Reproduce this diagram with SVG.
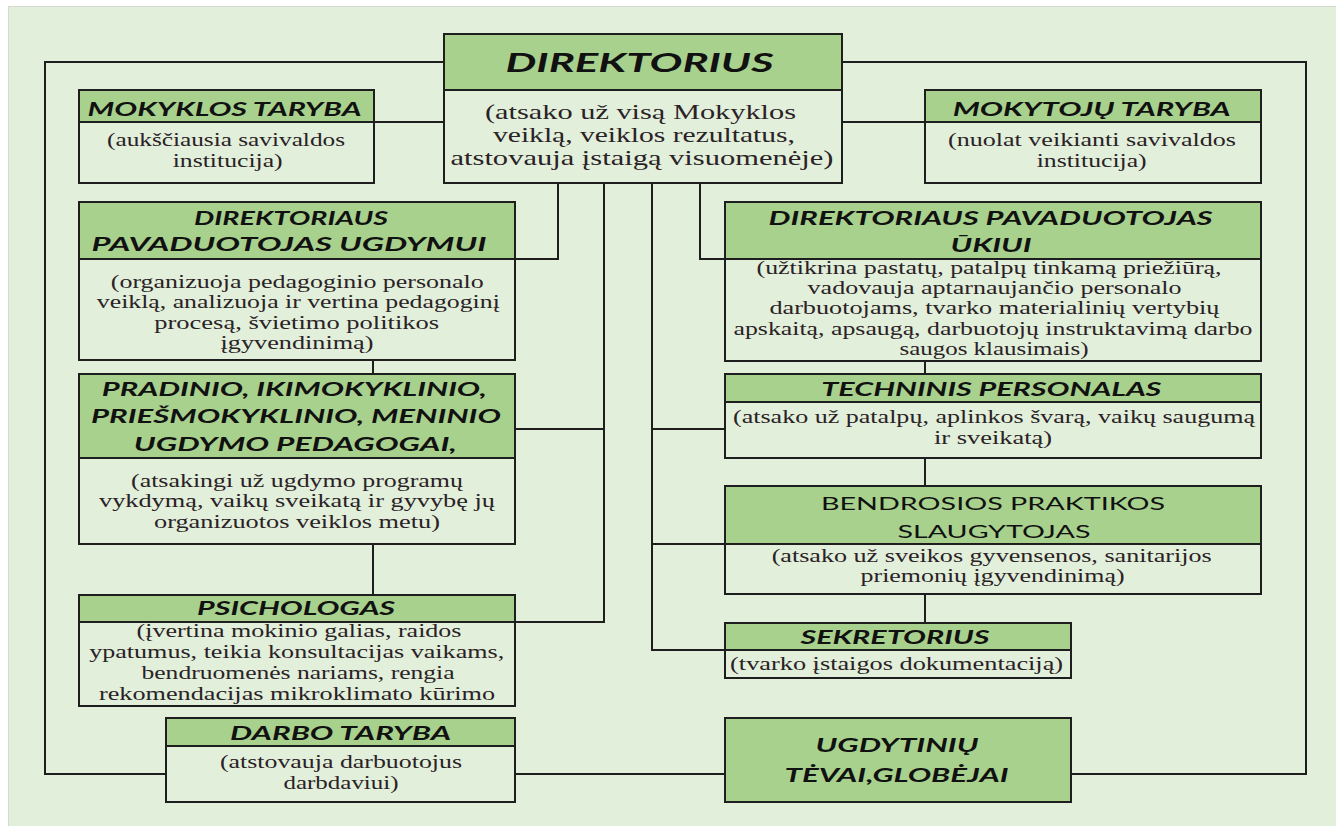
<svg xmlns="http://www.w3.org/2000/svg" width="1336" height="826" viewBox="0 0 1336 826">
<style>
.hd{fill:#A9D18E;stroke:#1e1e1e;stroke-width:2}
.bd{fill:#E2EFDA;stroke:#1e1e1e;stroke-width:2}
.c{fill:none;stroke:#1e1e1e;stroke-width:2}
.h{font-family:Lato,"Liberation Sans",sans-serif;font-weight:bold;font-style:italic;font-size:18px;fill:#111;text-anchor:middle}
.hr{font-family:Lato,"Liberation Sans",sans-serif;font-size:18px;fill:#111;text-anchor:middle}
.b{font-family:"Liberation Serif","DejaVu Serif",serif;font-size:18px;fill:#2a2226;text-anchor:middle}
</style>
<rect x="0" y="0" width="1336" height="826" fill="#ffffff"/>
<rect x="8" y="6" width="1328" height="820" fill="#E2EFDA"/>
<path d="M8.5,826 V6.5 H1336" fill="none" stroke="#d4d8d2" stroke-width="1"/>

<g id="connectors">
<polyline class="c" points="444,62 45,62 45,774 166,774"/>
<polyline class="c" points="842,62 1306,62 1306,774 1071,774"/>
<line class="c" x1="374" y1="122" x2="444" y2="122"/>
<line class="c" x1="842" y1="122" x2="925" y2="122"/>
<polyline class="c" points="558,183 558,259 515,259"/>
<polyline class="c" points="604,183 604,622 515,622"/>
<line class="c" x1="604" y1="429" x2="515" y2="429"/>
<polyline class="c" points="652,183 652,650 725,650"/>
<line class="c" x1="652" y1="429" x2="725" y2="429"/>
<line class="c" x1="652" y1="544" x2="725" y2="544"/>
<polyline class="c" points="700,183 700,259 725,259"/>
<line class="c" x1="373" y1="360" x2="373" y2="374"/>
<line class="c" x1="373" y1="544" x2="373" y2="595"/>
<line class="c" x1="925" y1="361" x2="925" y2="374"/>
<line class="c" x1="925" y1="458" x2="925" y2="486"/>
<line class="c" x1="925" y1="594" x2="925" y2="623"/>
<line class="c" x1="515" y1="774" x2="725" y2="774"/>
</g>

<g id="direktorius">
<rect class="hd" x="444" y="34" width="398" height="56"/>
<rect class="bd" x="444" y="90" width="398" height="93"/>
<text class="h" x="639.5" y="72" style="font-size:26px" textLength="268" lengthAdjust="spacingAndGlyphs">DIREKTORIUS</text>
<text class="b" x="640.5" y="119" style="font-size:21px" textLength="311" lengthAdjust="spacingAndGlyphs">(atsako už visą Mokyklos</text>
<text class="b" x="644" y="142" style="font-size:21px" textLength="302" lengthAdjust="spacingAndGlyphs">veiklą, veiklos rezultatus,</text>
<text class="b" x="642" y="165" style="font-size:21px" textLength="383" lengthAdjust="spacingAndGlyphs">atstovauja įstaigą visuomenėje)</text>
</g>

<g id="mokyklos-taryba">
<rect class="hd" x="79" y="90" width="295" height="32"/>
<rect class="bd" x="79" y="122" width="295" height="61"/>
<text class="h" x="224.5" y="116" textLength="274" lengthAdjust="spacingAndGlyphs">MOKYKLOS TARYBA</text>
<text class="b" x="226" y="146" textLength="238" lengthAdjust="spacingAndGlyphs">(aukščiausia savivaldos</text>
<text class="b" x="227.7" y="167" textLength="110" lengthAdjust="spacingAndGlyphs">institucija)</text>
</g>

<g id="mokytoju-taryba">
<rect class="hd" x="925" y="90" width="336" height="32"/>
<rect class="bd" x="925" y="122" width="336" height="61"/>
<text class="h" x="1091.7" y="116" textLength="278" lengthAdjust="spacingAndGlyphs">MOKYTOJŲ TARYBA</text>
<text class="b" x="1092" y="146" textLength="288" lengthAdjust="spacingAndGlyphs">(nuolat veikianti savivaldos</text>
<text class="b" x="1091.7" y="167" textLength="110" lengthAdjust="spacingAndGlyphs">institucija)</text>
</g>

<g id="pavaduotojas-ugdymui">
<rect class="hd" x="79" y="202" width="436" height="57"/>
<rect class="bd" x="79" y="259" width="436" height="101"/>
<text class="h" x="291" y="225" textLength="194" lengthAdjust="spacingAndGlyphs">DIREKTORIAUS</text>
<text class="h" x="289" y="251" textLength="395" lengthAdjust="spacingAndGlyphs">PAVADUOTOJAS UGDYMUI</text>
<text class="b" x="297.3" y="288" textLength="373" lengthAdjust="spacingAndGlyphs">(organizuoja pedagoginio personalo</text>
<text class="b" x="298.3" y="308" textLength="403" lengthAdjust="spacingAndGlyphs">veiklą, analizuoja ir vertina pedagoginį</text>
<text class="b" x="296.7" y="329" textLength="285" lengthAdjust="spacingAndGlyphs">procesą, švietimo politikos</text>
<text class="b" x="297" y="349" textLength="153" lengthAdjust="spacingAndGlyphs">įgyvendinimą)</text>
</g>

<g id="pedagogai">
<rect class="hd" x="79" y="374" width="436" height="84"/>
<rect class="bd" x="79" y="458" width="436" height="86"/>
<text class="h" x="294.2" y="396" textLength="385" lengthAdjust="spacingAndGlyphs">PRADINIO, IKIMOKYKLINIO,</text>
<text class="h" x="295.9" y="423" textLength="410" lengthAdjust="spacingAndGlyphs">PRIEŠMOKYKLINIO, MENINIO</text>
<text class="h" x="295.3" y="451" textLength="323" lengthAdjust="spacingAndGlyphs">UGDYMO PEDAGOGAI,</text>
<text class="b" x="297" y="487" textLength="332" lengthAdjust="spacingAndGlyphs">(atsakingi už ugdymo programų</text>
<text class="b" x="297" y="507" textLength="396" lengthAdjust="spacingAndGlyphs">vykdymą, vaikų sveikatą ir gyvybę jų</text>
<text class="b" x="297" y="528" textLength="286" lengthAdjust="spacingAndGlyphs">organizuotos veiklos metu)</text>
</g>

<g id="psichologas">
<rect class="hd" x="79" y="595" width="436" height="27"/>
<rect class="bd" x="79" y="622" width="436" height="84"/>
<text class="h" x="296" y="615" textLength="198" lengthAdjust="spacingAndGlyphs">PSICHOLOGAS</text>
<text class="b" x="299" y="637" textLength="325" lengthAdjust="spacingAndGlyphs">(įvertina mokinio galias, raidos</text>
<text class="b" x="296.7" y="658" textLength="415" lengthAdjust="spacingAndGlyphs">ypatumus, teikia konsultacijas vaikams,</text>
<text class="b" x="298" y="679" textLength="313" lengthAdjust="spacingAndGlyphs">bendruomenės nariams, rengia</text>
<text class="b" x="297" y="700" textLength="396" lengthAdjust="spacingAndGlyphs">rekomendacijas mikroklimato kūrimo</text>
</g>

<g id="darbo-taryba">
<rect class="hd" x="166" y="718" width="349" height="28"/>
<rect class="bd" x="166" y="746" width="349" height="56"/>
<text class="h" x="340.5" y="740" textLength="221" lengthAdjust="spacingAndGlyphs">DARBO TARYBA</text>
<text class="b" x="341" y="768" textLength="242" lengthAdjust="spacingAndGlyphs">(atstovauja darbuotojus</text>
<text class="b" x="341" y="789" textLength="115" lengthAdjust="spacingAndGlyphs">darbdaviui)</text>
</g>

<g id="pavaduotojas-ukiui">
<rect class="hd" x="725" y="202" width="536" height="57"/>
<rect class="bd" x="725" y="259" width="536" height="102"/>
<text class="h" x="990.6" y="225" textLength="444" lengthAdjust="spacingAndGlyphs">DIREKTORIAUS PAVADUOTOJAS</text>
<text class="h" x="991" y="252" textLength="81" lengthAdjust="spacingAndGlyphs">ŪKIUI</text>
<text class="b" x="989" y="274" textLength="465" lengthAdjust="spacingAndGlyphs">(užtikrina pastatų, patalpų tinkamą priežiūrą,</text>
<text class="b" x="994.6" y="294" textLength="374" lengthAdjust="spacingAndGlyphs">vadovauja aptarnaujančio personalo</text>
<text class="b" x="994.4" y="314" textLength="450" lengthAdjust="spacingAndGlyphs">darbuotojams, tvarko materialinių vertybių</text>
<text class="b" x="993" y="335" textLength="519" lengthAdjust="spacingAndGlyphs">apskaitą, apsaugą, darbuotojų instruktavimą darbo</text>
<text class="b" x="994" y="355" textLength="189" lengthAdjust="spacingAndGlyphs">saugos klausimais)</text>
</g>

<g id="techninis-personalas">
<rect class="hd" x="725" y="374" width="536" height="28"/>
<rect class="bd" x="725" y="402" width="536" height="56"/>
<text class="h" x="991.3" y="396" textLength="340" lengthAdjust="spacingAndGlyphs">TECHNINIS PERSONALAS</text>
<text class="b" x="994" y="423" textLength="522" lengthAdjust="spacingAndGlyphs">(atsako už patalpų, aplinkos švarą, vaikų saugumą</text>
<text class="b" x="993" y="444" textLength="118" lengthAdjust="spacingAndGlyphs">ir sveikatą)</text>
</g>

<g id="slaugytojas">
<rect class="hd" x="725" y="486" width="536" height="58"/>
<rect class="bd" x="725" y="544" width="536" height="50"/>
<text class="hr" x="993" y="510" textLength="344" lengthAdjust="spacingAndGlyphs">BENDROSIOS PRAKTIKOS</text>
<text class="hr" x="994" y="538" textLength="193" lengthAdjust="spacingAndGlyphs">SLAUGYTOJAS</text>
<text class="b" x="991.7" y="562" textLength="440" lengthAdjust="spacingAndGlyphs">(atsako už sveikos gyvensenos, sanitarijos</text>
<text class="b" x="992.6" y="582" textLength="264" lengthAdjust="spacingAndGlyphs">priemonių įgyvendinimą)</text>
</g>

<g id="sekretorius">
<rect class="hd" x="725" y="623" width="346" height="27"/>
<rect class="bd" x="725" y="650" width="346" height="28"/>
<text class="h" x="895" y="644" textLength="189" lengthAdjust="spacingAndGlyphs">SEKRETORIUS</text>
<text class="b" x="896.6" y="670" textLength="333" lengthAdjust="spacingAndGlyphs">(tvarko įstaigos dokumentaciją)</text>
</g>

<g id="tevai-globejai">
<rect class="hd" x="725" y="718" width="346" height="84"/>
<text class="h" x="897" y="752" textLength="163" lengthAdjust="spacingAndGlyphs">UGDYTINIŲ</text>
<text class="h" x="896.6" y="782" textLength="224" lengthAdjust="spacingAndGlyphs">TĖVAI,GLOBĖJAI</text>
</g>
</svg>
